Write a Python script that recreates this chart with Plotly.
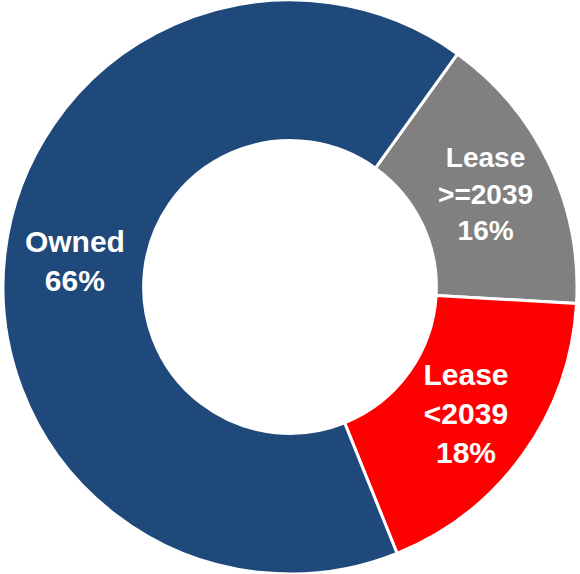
import plotly.graph_objects as go

# Share of sites by tenure
categories = ["Lease<br>&gt;=2039", "Lease<br>&lt;2039", "Owned"]
shares = [16, 18, 66]
colors = ["#808080", "#FF0000", "#1F497B"]

fig = go.Figure(
    go.Pie(
        labels=categories,
        values=shares,
        sort=False,
        direction="clockwise",
        rotation=35.7,
        hole=0.51,
        marker=dict(colors=colors, line=dict(color="white", width=3)),
        texttemplate="%{label}<br>%{value}%",
        textposition="inside",
        insidetextorientation="horizontal",
        textfont=dict(family="Liberation Sans, Arial, sans-serif", size=30,
                      color="white", weight="bold"),
        hoverinfo="skip",
        showlegend=False,
    )
)

fig.update_layout(
    width=580,
    height=574,
    margin=dict(l=0, r=0, t=0, b=0),
    paper_bgcolor="white",
    plot_bgcolor="white",
    uniformtext=dict(minsize=30, mode=False),
)

fig.write_html("out.html")
